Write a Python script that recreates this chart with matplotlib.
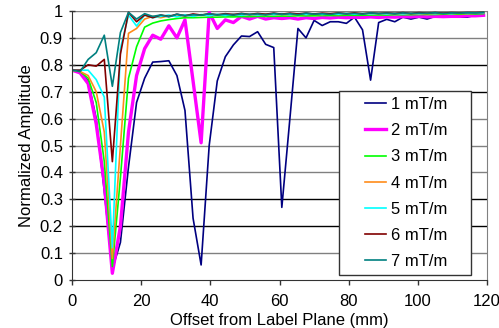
import numpy as np
import matplotlib
matplotlib.use("Agg")
import matplotlib.pyplot as plt
from matplotlib.patches import Rectangle

plt.rcParams['font.family'] = ['Liberation Sans', 'DejaVu Sans']

# offsets (mm), 52 samples across the plane
offset = np.linspace(0, 119, 52)

amp_1 = [0.78, 0.77, 0.74, 0.60, 0.33, 0.04, 0.14, 0.42, 0.66, 0.75,
         0.81, 0.812, 0.815, 0.76, 0.63, 0.23, 0.056, 0.50, 0.74, 0.83,
         0.874, 0.907, 0.905, 0.923, 0.876, 0.864, 0.27, 0.60, 0.935, 0.90,
         0.965, 0.946, 0.96, 0.96, 0.954, 0.977, 0.93, 0.743, 0.957, 0.969,
         0.96, 0.977, 0.97, 0.977, 0.97, 0.98, 0.98, 0.985, 0.977, 0.977,
         0.985, 0.99]
amp_2 = [0.78, 0.77, 0.73, 0.58, 0.36, 0.025, 0.20, 0.55, 0.76, 0.86,
         0.91, 0.895, 0.945, 0.90, 0.967, 0.74, 0.51, 0.995, 0.935, 0.967,
         0.957, 0.98, 0.97, 0.98, 0.97, 0.975, 0.972, 0.975, 0.97, 0.975,
         0.972, 0.976, 0.974, 0.977, 0.975, 0.977, 0.976, 0.978, 0.976, 0.978,
         0.977, 0.979, 0.978, 0.98, 0.978, 0.98, 0.979, 0.98, 0.98, 0.982,
         0.982, 0.984]
amp_3 = [0.78, 0.775, 0.75, 0.66, 0.44, 0.05, 0.38, 0.75, 0.867, 0.94,
         0.955, 0.963, 0.968, 0.972, 0.975, 0.975, 0.976, 0.977, 0.977, 0.978,
         0.978, 0.979, 0.979, 0.98, 0.98, 0.98, 0.981, 0.981, 0.982, 0.982,
         0.982, 0.983, 0.983, 0.983, 0.984, 0.984, 0.984, 0.985, 0.985, 0.985,
         0.986, 0.986, 0.986, 0.987, 0.987, 0.987, 0.988, 0.988, 0.988, 0.989,
         0.989, 0.99]
amp_4 = [0.78, 0.775, 0.76, 0.70, 0.55, 0.08, 0.50, 0.917, 0.935, 0.97,
         0.98, 0.975, 0.982, 0.98, 0.984, 0.982, 0.985, 0.983, 0.986, 0.984,
         0.986, 0.985, 0.987, 0.985, 0.987, 0.986, 0.988, 0.986, 0.988, 0.987,
         0.988, 0.987, 0.989, 0.987, 0.989, 0.988, 0.989, 0.988, 0.99, 0.988,
         0.99, 0.989, 0.99, 0.989, 0.99, 0.99, 0.991, 0.99, 0.991, 0.99,
         0.992, 0.992]
amp_5 = [0.78, 0.78, 0.78, 0.745, 0.68, 0.12, 0.86, 0.985, 0.944, 0.985,
         0.975, 0.98, 0.985, 0.978, 0.986, 0.98, 0.987, 0.982, 0.988, 0.983,
         0.988, 0.984, 0.989, 0.985, 0.989, 0.986, 0.99, 0.986, 0.99, 0.987,
         0.99, 0.987, 0.99, 0.988, 0.991, 0.988, 0.991, 0.989, 0.991, 0.989,
         0.992, 0.989, 0.992, 0.99, 0.992, 0.99, 0.993, 0.99, 0.993, 0.991,
         0.993, 0.993]
amp_6 = [0.78, 0.78, 0.80, 0.795, 0.82, 0.44, 0.84, 0.995, 0.96, 0.985,
         0.975, 0.985, 0.98, 0.988, 0.982, 0.989, 0.985, 0.99, 0.986, 0.99,
         0.987, 0.991, 0.987, 0.991, 0.988, 0.992, 0.988, 0.992, 0.989, 0.992,
         0.989, 0.992, 0.99, 0.993, 0.99, 0.993, 0.99, 0.993, 0.991, 0.993,
         0.991, 0.994, 0.991, 0.994, 0.992, 0.994, 0.992, 0.994, 0.993, 0.994,
         0.994, 0.995]
amp_7 = [0.78, 0.775, 0.82, 0.845, 0.91, 0.72, 0.92, 0.995, 0.97, 0.99,
         0.98, 0.985, 0.978, 0.988, 0.982, 0.986, 0.984, 0.99, 0.985, 0.988,
         0.984, 0.99, 0.986, 0.989, 0.985, 0.991, 0.987, 0.99, 0.986, 0.992,
         0.988, 0.99, 0.987, 0.992, 0.989, 0.991, 0.988, 0.993, 0.99, 0.992,
         0.989, 0.993, 0.99, 0.992, 0.991, 0.994, 0.99, 0.993, 0.992, 0.994,
         0.993, 0.995]

labels = ['1 mT/m', '2 mT/m', '3 mT/m', '4 mT/m', '5 mT/m', '6 mT/m', '7 mT/m']
series = [amp_1, amp_2, amp_3, amp_4, amp_5, amp_6, amp_7]
colors = ['#000080', '#FF00FF', '#00FF00', '#FF8C1A', '#00FFFF', '#800000', '#008080']
widths = [1.2, 2.4, 1.2, 1.2, 1.2, 1.2, 1.2]

fig = plt.figure(figsize=(4.99, 3.28), dpi=100)
ax = fig.add_axes([0.1443, 0.1463, 0.976 - 0.1443, 0.9665 - 0.1463])

# horizontal gridlines (some render darker in the original)
for g in np.arange(0.1, 1.01, 0.1):
    c = 'black' if round(g, 1) in (0.2, 0.3, 0.7, 0.8) else '#808080'
    ax.axhline(g, color=c, lw=1.0, zorder=0)

for y, lab, c, w in zip(series, labels, colors, widths):
    ax.plot(offset, y, color=c, lw=w, label=lab)

ax.set_xlim(0, 120)
ax.set_ylim(0, 1)
ax.set_xticks(np.arange(0, 121, 20))
ax.set_yticks(np.arange(0, 1.01, 0.1))
ax.set_yticklabels(['0', '0.1', '0.2', '0.3', '0.4', '0.5', '0.6', '0.7', '0.8', '0.9', '1'])
ax.tick_params(labelsize=12, width=1, colors='#333333', labelcolor='black')
ax.tick_params(axis='x', direction='out', length=3.6, pad=6.5)
ax.tick_params(axis='y', direction='inout', length=5, pad=4)

ax.spines['top'].set_visible(False)
ax.spines['right'].set_color('#808080')
ax.spines['left'].set_color('#333333')
ax.spines['bottom'].set_color('#333333')

ax.set_xlabel('Offset from Label Plane (mm)', fontsize=12, labelpad=2.5)
ax.set_ylabel('Normalized Amplitude', fontsize=12, labelpad=4)

# legend box drawn separately so it matches the original size
box = Rectangle((0.643, 0.019), 0.318, 0.684, transform=ax.transAxes,
                facecolor='white', edgecolor='#333333', lw=1.0, zorder=4)
ax.add_patch(box)
leg = ax.legend(loc='center', bbox_to_anchor=(0.805, 0.36), frameon=False,
                fontsize=12, handlelength=1.3, handletextpad=0.3,
                labelspacing=0.67, borderpad=0.2)
leg.set_zorder(5)

fig.savefig('out.png', dpi=100)
